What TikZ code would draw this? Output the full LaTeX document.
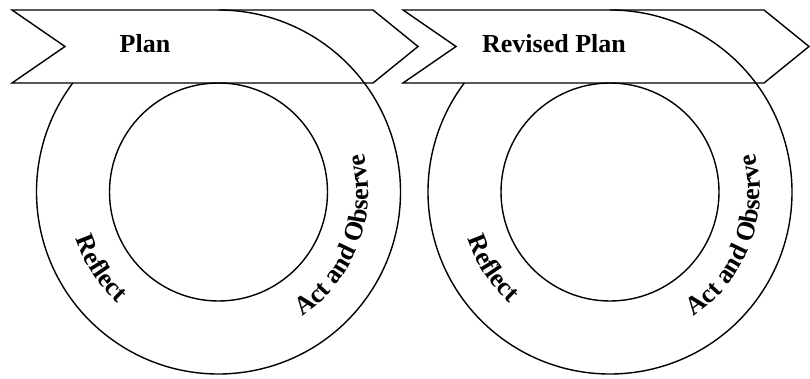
\documentclass[tikz,border=0pt]{standalone}
\usepackage{fontspec}
\setmainfont{Liberation Serif}
\usetikzlibrary{decorations.text}
\newcommand{\ringfont}{\bfseries\fontsize{26}{30}\selectfont}

\begin{document}
\begin{tikzpicture}[x=1pt,y=1pt,
    band/.style={draw, fill=white, line width=1.4pt, line join=miter},
    ring/.style={draw, line width=1.4pt},
    steplabel/.style={font=\ringfont}]

\useasboundingbox (0,0) rectangle (810,378);

\coordinate (c1) at (218.5,186);
\coordinate (c2) at (610,186);

\draw [band] (12,368) -- (373,368) -- (418,331.5) -- (373,295) -- (12,295) -- (65,331.5) -- cycle;


\draw [band] (403,368) -- (764,368) -- (809,331.5) -- (764,295) -- (403,295) -- (456,331.5) -- cycle;


\draw [ring] (c1) ++(143.2:182) arc [start angle=143.2, end angle=450, radius=182];
\draw [ring] (c1) circle [radius=109];

\draw [ring] (c2) ++(143.2:182) arc [start angle=143.2, end angle=450, radius=182];
\draw [ring] (c2) circle [radius=109];

\node [steplabel] (plan) at (145,334) {Plan};
\node [steplabel] (revised) at (554,334) {Revised Plan};

\path [decorate, decoration={text along path, text={|\ringfont|Reflect}, text align=center}]
    (c1) ++(163:150) arc [start angle=163, end angle=263, radius=150];
\path [decorate, decoration={text along path, text={|\ringfont|Act and Observe}, text align=center}]
    (c1) ++(279.5:150) arc [start angle=279.5, end angle=399.5, radius=150];
\path [decorate, decoration={text along path, text={|\ringfont|Reflect}, text align=center}]
    (c2) ++(163:150) arc [start angle=163, end angle=263, radius=150];
\path [decorate, decoration={text along path, text={|\ringfont|Act and Observe}, text align=center}]
    (c2) ++(279.5:150) arc [start angle=279.5, end angle=399.5, radius=150];

\end{tikzpicture}
\end{document}
